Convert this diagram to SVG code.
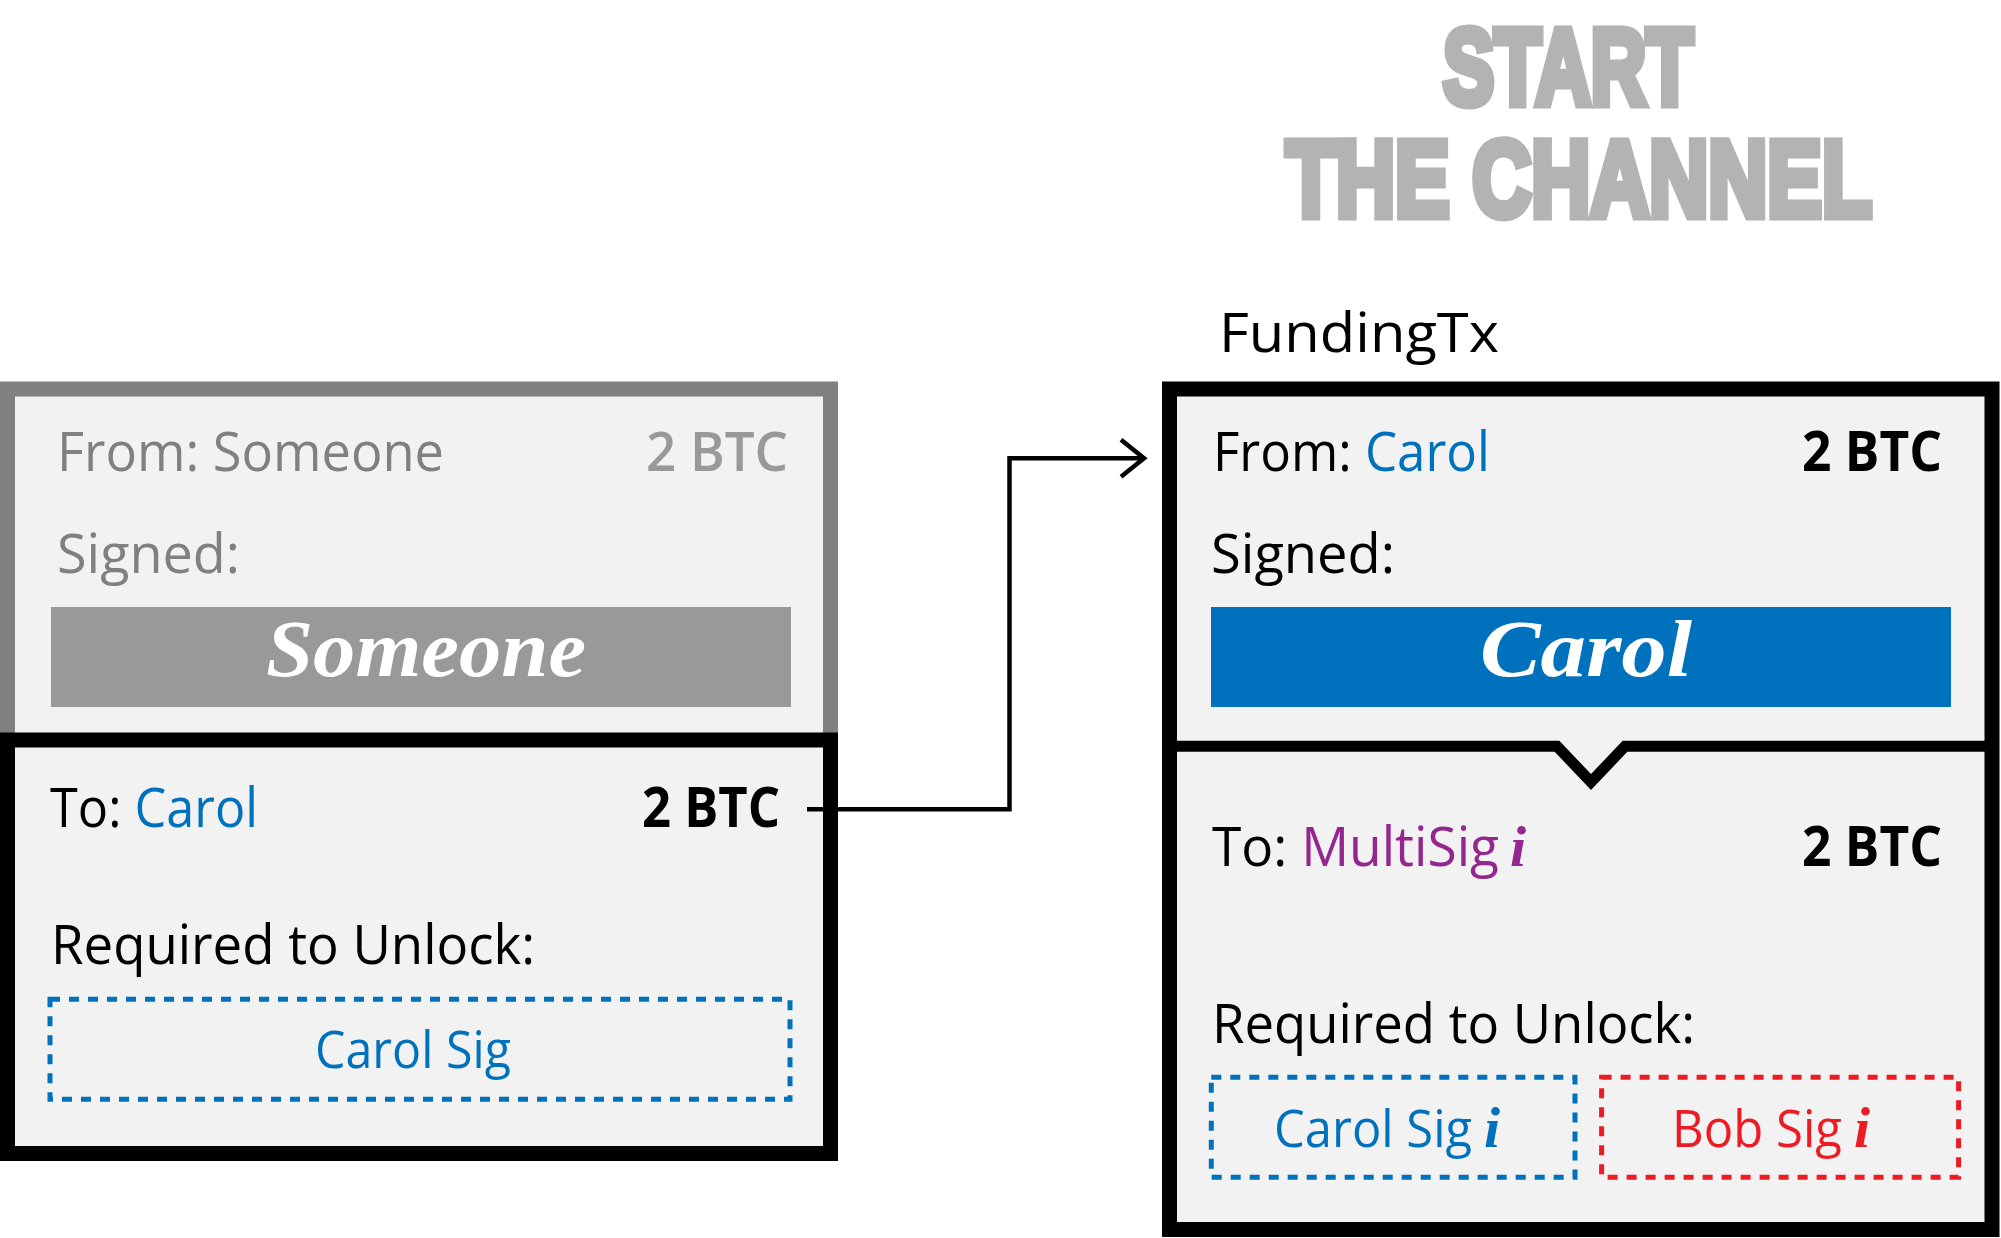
<svg xmlns="http://www.w3.org/2000/svg" width="2001" height="1238" viewBox="0 0 2001 1238">
<defs>
<style>
.t{font-family:"Open Sans","Noto Sans","Liberation Sans",sans-serif;font-size:55px;fill:#000}
.g{fill:#808080}
.lg{fill:#999999}
.b{font-weight:bold}
.blue{fill:#0071bc}
.pur{fill:#93278f}
.red{fill:#ed1c24}
.sig{font-family:"Liberation Serif","DejaVu Serif",serif;font-style:italic;font-weight:bold;fill:#fff;font-size:80px}
.ii{font-family:"Liberation Serif","DejaVu Serif",serif;font-style:italic;font-weight:bold;font-size:58px}
.title{font-family:"Liberation Sans",sans-serif;font-weight:bold;font-size:108px;fill:#b3b3b3;stroke:#b3b3b3;stroke-width:9;stroke-linejoin:miter}
.box{fill:#f2f2f2;stroke-width:15}
.dash{fill:none;stroke-width:5;stroke-dasharray:10 9}
.conn{fill:none;stroke:#000;stroke-width:4.5}
</style>
<marker id="chev" markerUnits="userSpaceOnUse" markerWidth="60" markerHeight="60" refX="0" refY="0" viewBox="-40 -30 60 60" orient="auto" overflow="visible">
<path d="M-23,-18.5 L0,0 L-23,18.5" fill="none" stroke="#000" stroke-width="4.5"/>
</marker>
</defs>
<rect x="0" y="0" width="2001" height="1238" fill="#fff"/>

<g id="title">
<text class="title" transform="translate(1443,103.8) scale(0.711,1)">START</text>
<text class="title" transform="translate(1286,216.2) scale(0.757,1)">THE CHANNEL</text>
</g>

<g id="prev-input">
<rect class="box" x="7.5" y="389" width="823" height="352" stroke="#808080"/>
<text class="t g" x="57" y="471" textLength="387" lengthAdjust="spacingAndGlyphs">From: Someone</text>
<text class="t lg" style="font-weight:600" x="646" y="471" textLength="142" lengthAdjust="spacingAndGlyphs">2 BTC</text>
<text class="t g" x="57" y="573" textLength="183" lengthAdjust="spacingAndGlyphs">Signed:</text>
<rect x="51" y="607" width="740" height="100" fill="#999999"/>
<text class="sig" x="266" y="676" textLength="320" lengthAdjust="spacingAndGlyphs">Someone</text>
</g>

<g id="prev-output">
<rect class="box" x="7.5" y="740" width="823" height="413.5" stroke="#000"/>
<text class="t" x="50" y="827" textLength="208" lengthAdjust="spacingAndGlyphs">To: <tspan class="blue">Carol</tspan></text>
<text class="t b" x="642" y="827" textLength="138" lengthAdjust="spacingAndGlyphs">2 BTC</text>
<text class="t" x="51" y="964.3" textLength="484" lengthAdjust="spacingAndGlyphs">Required to Unlock:</text>
<rect class="dash" x="50" y="999.3" width="740" height="100" stroke="#0071bc"/>
<text class="t blue" style="font-size:51px" x="315" y="1068.3" textLength="196" lengthAdjust="spacingAndGlyphs">Carol Sig</text>
</g>

<g id="funding-label">
<text class="t" style="font-size:54px" x="1219" y="351.7" textLength="280" lengthAdjust="spacingAndGlyphs">FundingTx</text>
</g>

<g id="funding-tx">
<rect class="box" x="1169.5" y="389" width="822.5" height="840.5" stroke="#000"/>
<text class="t" x="1213" y="471" textLength="277" lengthAdjust="spacingAndGlyphs">From: <tspan class="blue">Carol</tspan></text>
<text class="t b" x="1802" y="470.5" textLength="140" lengthAdjust="spacingAndGlyphs">2 BTC</text>
<text class="t" x="1211" y="572.5" textLength="184" lengthAdjust="spacingAndGlyphs">Signed:</text>
<rect x="1211" y="607" width="740" height="100" fill="#0071bc"/>
<text class="sig" x="1480" y="676" textLength="212" lengthAdjust="spacingAndGlyphs">Carol</text>
<path d="M1177,746.3 H1557 L1591,782 L1625,746.3 H1986" fill="none" stroke="#000" stroke-width="11" stroke-miterlimit="10"/>
<text class="t" x="1212" y="866" textLength="287" lengthAdjust="spacingAndGlyphs">To: <tspan class="pur">MultiSig</tspan></text>
<text class="ii pur" x="1510" y="866">i</text>
<text class="t b" x="1802" y="866" textLength="140" lengthAdjust="spacingAndGlyphs">2 BTC</text>
<text class="t" x="1212" y="1043.3" textLength="483" lengthAdjust="spacingAndGlyphs">Required to Unlock:</text>
<rect class="dash" x="1211.3" y="1077.3" width="363.7" height="100" stroke="#0071bc"/>
<text class="t blue" style="font-size:51px" x="1274" y="1146.7" textLength="198" lengthAdjust="spacingAndGlyphs">Carol Sig</text>
<text class="ii blue" x="1484" y="1146.7">i</text>
<rect class="dash" x="1601.6" y="1077.3" width="357" height="100" stroke="#ed1c24"/>
<text class="t red" style="font-size:51px" x="1672" y="1146.7" textLength="170" lengthAdjust="spacingAndGlyphs">Bob Sig</text>
<text class="ii red" x="1854" y="1146.7">i</text>
</g>

<g id="connectors">
<path class="conn" d="M807,809.3 H1009.5 V458.3 H1144" marker-end="url(#chev)"/>
</g>
</svg>
